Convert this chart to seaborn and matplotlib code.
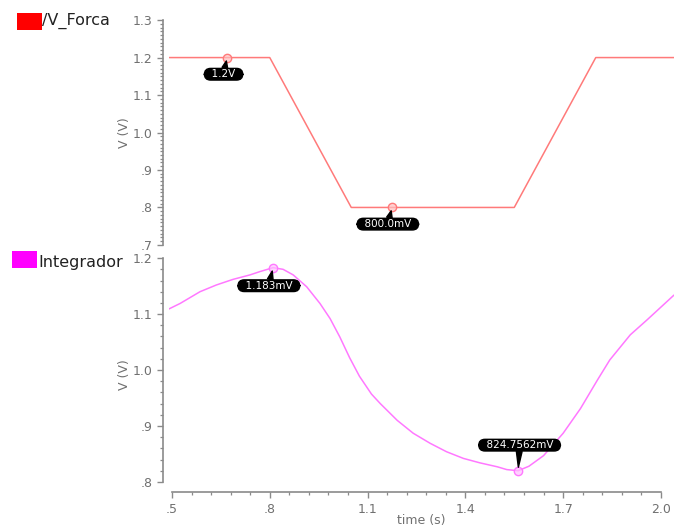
import matplotlib
matplotlib.use("Agg")
import matplotlib.pyplot as plt
import matplotlib.ticker as mticker
from matplotlib.patches import Rectangle
import seaborn as sns

# ---- waveforms ----
FORCA_T = [0.49, 0.80, 1.05, 1.55, 1.80, 2.04]
FORCA_V = [1.2, 1.2, 0.8, 0.8, 1.2, 1.2]

INTEG_T = [0.49, 0.525, 0.586, 0.636, 0.687, 0.739, 0.77, 0.81, 0.841, 0.872,
           0.913, 0.954, 0.985, 1.015, 1.045, 1.075, 1.112, 1.139, 1.191, 1.24,
           1.292, 1.342, 1.394, 1.445, 1.498, 1.527, 1.562, 1.595, 1.64, 1.70,
           1.753, 1.805, 1.843, 1.906, 1.958, 2.04]
INTEG_V = [1.109, 1.119, 1.140, 1.152, 1.162, 1.170, 1.176, 1.183, 1.180, 1.170,
           1.149, 1.119, 1.092, 1.059, 1.022, 0.989, 0.957, 0.940, 0.910, 0.887,
           0.869, 0.854, 0.842, 0.834, 0.827, 0.822, 0.820, 0.828, 0.847, 0.887,
           0.931, 0.982, 1.018, 1.063, 1.090, 1.134]

# marker points and their labels
FORCA_MARK_T = [0.669, 1.175]
FORCA_MARK_V = [1.2, 0.8]
FORCA_MARK_LABELS = ["1.2V", "800.0mV"]

INTEG_MARK_T = [0.81, 1.562]
INTEG_MARK_V = [1.183, 0.82]
INTEG_MARK_LABELS = ["1.183mV", "824.7562mV"]

SERIES = ["/V_Forca", "Integrador"]
SERIES_COLORS = ["#ff0000", "#ff00ff"]
LINE_COLORS = ["#ff7a7a", "#ff78ff"]

TOP_YTICKS = [0.7, 0.8, 0.9, 1.0, 1.1, 1.2, 1.3]
BOT_YTICKS = [0.8, 0.9, 1.0, 1.1, 1.2]
XTICKS = [0.5, 0.8, 1.1, 1.4, 1.7, 2.0]

sns.set_style("white")
plt.rcParams["font.family"] = ["DejaVu Sans"]

GRAY = "#707070"
fig = plt.figure(figsize=(6.74, 5.29), dpi=100)
ax_bot = fig.add_axes([0.2503, 0.070, 0.7497, 0.442])
ax_top = fig.add_axes([0.2503, 0.537, 0.7497, 0.425])


def _fmt(v, pos=None):
    s = f"{v:.1f}"
    return s[1:] if s.startswith("0") else s


def _style(ax):
    for side in ["top", "right"]:
        ax.spines[side].set_visible(False)
    for side in ["left", "bottom"]:
        ax.spines[side].set_color("#8a8a8a")
        ax.spines[side].set_linewidth(1.2)
    ax.spines["left"].set_position(("outward", 4))
    ax.yaxis.set_major_formatter(mticker.FuncFormatter(_fmt))
    ax.tick_params(which="major", direction="out", length=4.3, width=1,
                   color="#8a8a8a", labelcolor=GRAY, labelsize=9, pad=3.5,
                   left=True, bottom=True)
    ax.tick_params(which="minor", direction="out", length=2.2, width=0.9,
                   color="#8a8a8a", left=True, bottom=True)
    ax.patch.set_alpha(0)


def _annotate(ax, ts, vs, labels, offsets):
    for t, v, lab, off in zip(ts, vs, labels, offsets):
        ax.annotate("  " + lab + "  ", xy=(t, v), xytext=off,
                    textcoords="offset points", ha="center", va="center",
                    fontsize=7.5, color="white",
                    bbox=dict(boxstyle="round,pad=0.08,rounding_size=0.6",
                              fc="black", ec="black"),
                    arrowprops=dict(arrowstyle="wedge,tail_width=0.55",
                                    fc="black", ec="black",
                                    shrinkA=0, shrinkB=2.5))


# ---- top: /V_Forca ----
sns.lineplot(x=FORCA_T, y=FORCA_V, ax=ax_top, color=LINE_COLORS[0],
             linewidth=1.1, estimator=None)
ax_top.plot(FORCA_MARK_T, FORCA_MARK_V, "o", ms=6, mfc=(1, 0.75, 0.75, 0.7),
            mec=LINE_COLORS[0], mew=1)
ax_top.set_xlim(0.49, 2.04)
ax_top.set_ylim(0.7, 1.3)
_style(ax_top)
ax_top.spines["bottom"].set_visible(False)
ax_top.set_xticks([])
ax_top.set_yticks(TOP_YTICKS)
ax_top.yaxis.set_minor_locator(mticker.MultipleLocator(0.01))
ax_top.set_ylabel("V (V)", color=GRAY, fontsize=9, labelpad=1)
_annotate(ax_top, FORCA_MARK_T, FORCA_MARK_V, FORCA_MARK_LABELS,
          [(-2.5, -12), (-3, -12)])

# ---- bottom: Integrador ----
sns.lineplot(x=INTEG_T, y=INTEG_V, ax=ax_bot, color=LINE_COLORS[1],
             linewidth=1.1, estimator=None)
ax_bot.plot(INTEG_MARK_T, INTEG_MARK_V, "o", ms=6, mfc=(1, 0.75, 1, 0.7),
            mec=LINE_COLORS[1], mew=1)
ax_bot.set_xlim(0.49, 2.04)
ax_bot.set_ylim(0.782, 1.2)
_style(ax_bot)
ax_bot.spines["left"].set_bounds(0.8, 1.2)
ax_bot.spines["bottom"].set_bounds(0.5, 2.0)
ax_bot.set_yticks(BOT_YTICKS)
ax_bot.yaxis.set_minor_locator(mticker.MultipleLocator(0.02))
ax_bot.set_xticks(XTICKS)
ax_bot.xaxis.set_major_formatter(mticker.FuncFormatter(_fmt))
ax_bot.xaxis.set_minor_locator(mticker.FixedLocator(
    [x for i in range(25) for x in [0.5 + i * 0.06] if x <= 2.0001]))
ax_bot.set_ylabel("V (V)", color=GRAY, fontsize=9, labelpad=1)
ax_bot.set_xlabel("time (s)", color=GRAY, fontsize=9, labelpad=-1)
_annotate(ax_bot, INTEG_MARK_T, INTEG_MARK_V, INTEG_MARK_LABELS,
          [(-3, -13), (1, 18.4)])

# ---- legend swatches in the left margin ----
swatches = [((0.0252, 0.943), (0.0623, 0.960)), ((0.0178, 0.4934), (0.0564, 0.5047))]
for name, color, ((sx, sy), (tx, ty)) in zip(SERIES, SERIES_COLORS, swatches):
    fig.add_artist(Rectangle((sx, sy), 0.0371, 0.032, transform=fig.transFigure,
                             facecolor=color, edgecolor="none"))
    fig.text(tx, ty, name, fontsize=11.5, color="#222222", ha="left", va="center")

fig.savefig("out.png", dpi=100, facecolor="white")
